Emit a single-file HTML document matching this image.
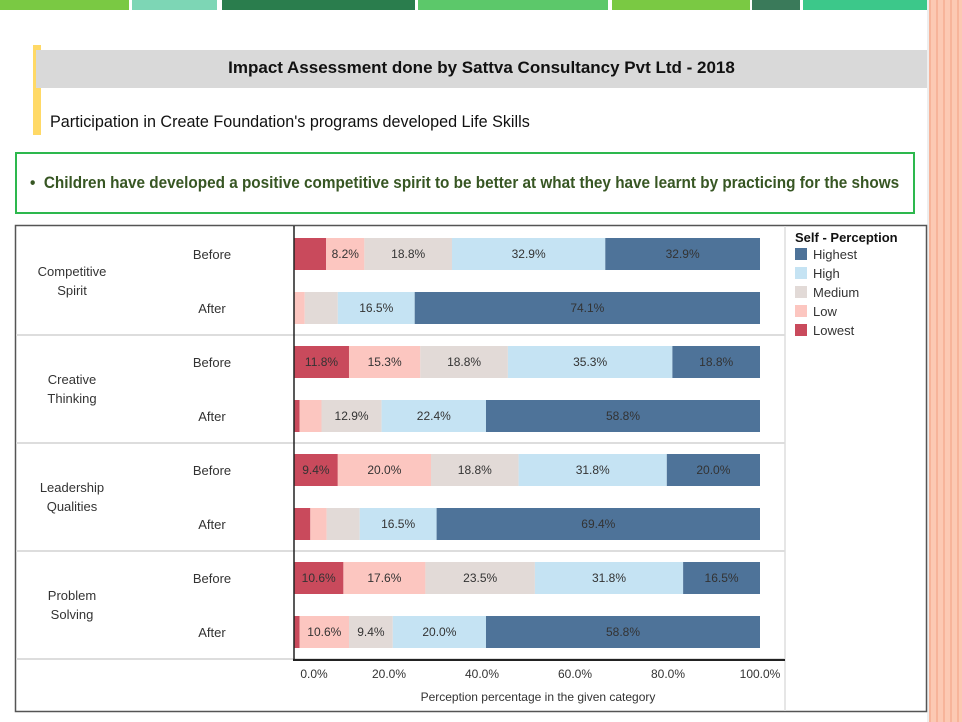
<!DOCTYPE html>
<html><head><meta charset="utf-8"><style>
body{margin:0;width:962px;height:722px;background:#fff;position:relative;overflow:hidden;font-family:"Liberation Sans",Arial,sans-serif}
.a{position:absolute}
</style></head><body>
<div class="a" style="left:0;top:0;width:129px;height:10px;background:#7ac943"></div>
<div class="a" style="left:132px;top:0;width:85px;height:10px;background:#7dd6b5"></div>
<div class="a" style="left:222px;top:0;width:193px;height:10px;background:#2a7d4d"></div>
<div class="a" style="left:418px;top:0;width:190px;height:10px;background:#5cc86a"></div>
<div class="a" style="left:612px;top:0;width:138px;height:10px;background:#7ac943"></div>
<div class="a" style="left:752px;top:0;width:48px;height:10px;background:#3a7a5a"></div>
<div class="a" style="left:803px;top:0;width:124px;height:10px;background:#3cc88a"></div>
<div class="a" style="left:929px;top:0;width:33px;height:722px;background:repeating-linear-gradient(90deg,#f7b49a 0 2px,#fcc9b3 2px 7px)"></div>
<div class="a" style="left:927px;top:0;width:2px;height:722px;background:#eee"></div>
<div class="a" style="left:33px;top:45px;width:8px;height:90px;background:#ffd966"></div>
<div class="a" style="left:36px;top:50px;width:891px;height:38px;background:#d9d9d9"></div>
<div class="a" style="left:36px;top:58px;width:891px;text-align:center;font-size:17px;font-weight:bold;color:#111">Impact Assessment done by Sattva Consultancy Pvt Ltd - 2018</div>
<div class="a" style="left:50px;top:112px;font-size:17px;color:#111;white-space:nowrap;transform:scaleX(0.95);transform-origin:left">Participation in Create Foundation's programs developed Life Skills</div>
<div class="a" style="left:15px;top:152px;width:896px;height:58px;border:2px solid #2db84d"></div>
<div class="a" style="left:30px;top:173px;font-size:17px;font-weight:bold;color:#375623;white-space:nowrap;transform:scaleX(0.9);transform-origin:left">•&nbsp;&nbsp;Children have developed a positive competitive spirit to be better at what they have learnt by practicing for the shows</div>
<svg class="a" style="left:0;top:0" width="962" height="722" font-family="Liberation Sans, Arial, sans-serif">
<rect x="15.5" y="225.5" width="911" height="486" fill="#fff" stroke="#555" stroke-width="1.5"/>
<g stroke="#ddd" stroke-width="2">
<line x1="16" y1="335" x2="785" y2="335"/><line x1="16" y1="443" x2="785" y2="443"/><line x1="16" y1="551" x2="785" y2="551"/><line x1="16" y1="659" x2="785" y2="659"/>
</g>
<line x1="785" y1="226" x2="785" y2="711" stroke="#ddd" stroke-width="1.5"/>
<g font-size="13" fill="#333" text-anchor="middle">
<text x="72" y="276">Competitive</text><text x="72" y="295">Spirit</text>
<text x="72" y="384">Creative</text><text x="72" y="403">Thinking</text>
<text x="72" y="492">Leadership</text><text x="72" y="511">Qualities</text>
<text x="72" y="600">Problem</text><text x="72" y="619">Solving</text>
</g>
<g font-size="13" fill="#333" text-anchor="middle">
<text x="212" y="259">Before</text><text x="212" y="313">After</text>
<text x="212" y="367">Before</text><text x="212" y="421">After</text>
<text x="212" y="475">Before</text><text x="212" y="529">After</text>
<text x="212" y="583">Before</text><text x="212" y="637">After</text>
</g>
<g id="bars"></g>
<line x1="294" y1="226" x2="294" y2="661" stroke="#222" stroke-width="1.5"/>
<line x1="293" y1="660" x2="785" y2="660" stroke="#222" stroke-width="2"/>
<g font-size="12" fill="#333" text-anchor="middle">
<text x="314" y="678">0.0%</text><text x="389" y="678">20.0%</text><text x="482" y="678">40.0%</text><text x="575" y="678">60.0%</text><text x="668" y="678">80.0%</text><text x="760" y="678">100.0%</text>
<text x="538" y="701">Perception percentage in the given category</text>
</g>
<text x="795" y="242" font-size="13" font-weight="bold" fill="#111">Self - Perception</text>
<g font-size="13" fill="#333">
<rect x="795" y="248" width="12" height="12" fill="#4e7399"/><text x="813" y="259">Highest</text>
<rect x="795" y="267" width="12" height="12" fill="#c5e3f3"/><text x="813" y="278">High</text>
<rect x="795" y="286" width="12" height="12" fill="#e2dad7"/><text x="813" y="297">Medium</text>
<rect x="795" y="305" width="12" height="12" fill="#fcc6c0"/><text x="813" y="316">Low</text>
<rect x="795" y="324" width="12" height="12" fill="#c94a5c"/><text x="813" y="335">Lowest</text>
</g>
</svg>
<script>
var data=[[254,[6.9,8.2,18.8,32.9,33.2],["","8.2%","18.8%","32.9%","32.9%"]],
[308,[0,2.3,7.1,16.5,74.1],["","","","16.5%","74.1%"]],
[362,[11.8,15.3,18.8,35.3,18.8],["11.8%","15.3%","18.8%","35.3%","18.8%"]],
[416,[1.2,4.7,12.9,22.4,58.8],["","","12.9%","22.4%","58.8%"]],
[470,[9.4,20,18.8,31.8,20],["9.4%","20.0%","18.8%","31.8%","20.0%"]],
[524,[3.5,3.5,7.1,16.5,69.4],["","","","16.5%","69.4%"]],
[578,[10.6,17.6,23.5,31.8,16.5],["10.6%","17.6%","23.5%","31.8%","16.5%"]],
[632,[1.2,10.6,9.4,20,58.8],["","10.6%","9.4%","20.0%","58.8%"]]];
var cols=["#c94a5c","#fcc6c0","#e2dad7","#c5e3f3","#4e7399"];
var s="";
data.forEach(function(d){var x=294;d[1].forEach(function(v,i){var w=v*4.66;
s+='<rect x="'+x+'" y="'+(d[0]-16)+'" width="'+w+'" height="32" fill="'+cols[i]+'"/>';
if(d[2][i])s+='<text x="'+(x+w/2)+'" y="'+(d[0]+4)+'" font-size="12" fill="#333" text-anchor="middle">'+d[2][i]+'</text>';
x+=w;});});
document.getElementById("bars").innerHTML=s;
</script>
</body></html>
